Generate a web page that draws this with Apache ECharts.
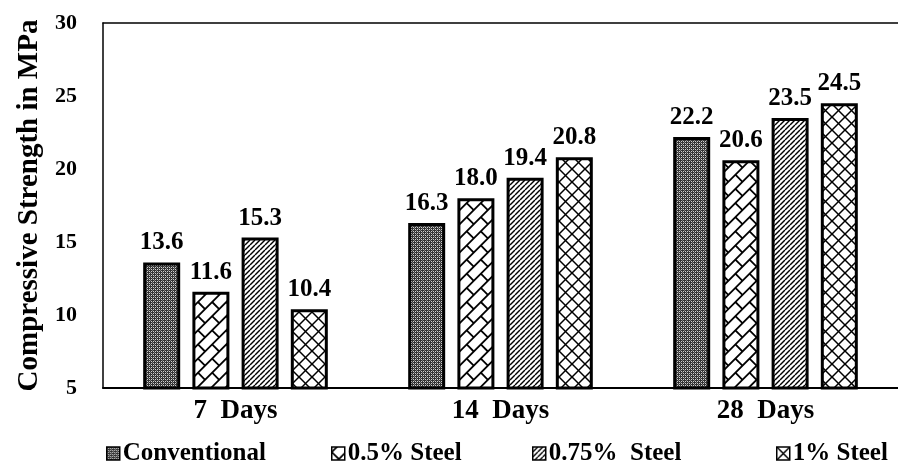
<!DOCTYPE html>
<html>
<head>
<meta charset="utf-8">
<script src="https://cdn.jsdelivr.net/npm/echarts@6/dist/echarts.min.js"></script>
<style>
  html, body { margin: 0; padding: 0; background: #fff; }
  #chart { width: 898px; height: 473px; }
</style>
</head>
<body>
<div id="chart"></div>
<script>
// Compressive strength by curing age and steel fibre content
const categories = ['7  Days', '14  Days', '28  Days'];
const seriesNames = ['Conventional', '0.5% Steel', '0.75%  Steel', '1% Steel'];
const conventional = [13.6, 16.3, 22.2];
const steel05 = [11.6, 18.0, 20.6];
const steel075 = [15.3, 19.4, 23.5];
const steel1 = [10.4, 20.8, 24.5];
const yMin = 5, yMax = 30, yStep = 5;

const FONT = '"Liberation Serif", "Times New Roman", serif';

function makeCanvas(w, h) {
  const c = document.createElement('canvas');
  c.width = w; c.height = h;
  return c;
}

// Fine dark stipple
function stipplePattern() {
  const c = makeCanvas(4, 4);
  const g = c.getContext('2d');
  g.fillStyle = '#333';
  g.fillRect(0, 0, 4, 4);
  g.fillStyle = '#d0d0d0';
  [[1, 1], [3, 3], [1, 3], [3, 1]].forEach(p => g.fillRect(p[0], p[1], 1, 1));
  g.fillStyle = '#7a7a7a';
  [[0, 2], [2, 0]].forEach(p => g.fillRect(p[0], p[1], 1, 1));
  return c;
}

// Diagonal brick: long rising lines with staggered short joints
function brickPattern() {
  const W = 1000, H = 500;
  const c = makeCanvas(W, H);
  const g = c.getContext('2d');
  g.fillStyle = '#fff';
  g.fillRect(0, 0, W, H);
  g.strokeStyle = '#000';
  g.lineWidth = 1.8;
  g.translate(0, H);
  g.rotate(-Math.PI / 4);
  const row = 10, len = 20;
  const span = W + H;
  for (let r = -Math.ceil(span / row); r <= Math.ceil(span / row); r++) {
    const y = r * row;
    g.beginPath();
    g.moveTo(-span, y);
    g.lineTo(span * 2, y);
    g.stroke();
    const off = (r % 2 === 0) ? 0 : len / 2;
    for (let x = -span + off; x < span * 2; x += len) {
      g.beginPath();
      g.moveTo(x, y);
      g.lineTo(x, y + row);
      g.stroke();
    }
  }
  return c;
}

// Dense rising hatch
function hatchPattern() {
  const s = 5;
  const c = makeCanvas(s, s);
  const g = c.getContext('2d');
  g.fillStyle = '#fff';
  g.fillRect(0, 0, s, s);
  g.strokeStyle = '#000';
  g.lineWidth = 1.4;
  for (let k = -1; k <= 1; k++) {
    g.beginPath();
    g.moveTo(k * s, s);
    g.lineTo(k * s + s, 0);
    g.stroke();
  }
  return c;
}

// Diagonal cross-hatch
function crossPattern() {
  const s = 13;
  const c = makeCanvas(s, s);
  const g = c.getContext('2d');
  g.fillStyle = '#fff';
  g.fillRect(0, 0, s, s);
  g.strokeStyle = '#000';
  g.lineWidth = 1.5;
  for (let k = -1; k <= 1; k++) {
    g.beginPath();
    g.moveTo(k * s, s);
    g.lineTo(k * s + s, 0);
    g.stroke();
    g.beginPath();
    g.moveTo(k * s, 0);
    g.lineTo(k * s + s, s);
    g.stroke();
  }
  return c;
}

const fills = [stipplePattern(), brickPattern(), hatchPattern(), crossPattern()];
const values = [conventional, steel05, steel075, steel1];

const chart = echarts.init(document.getElementById('chart'), null, { renderer: 'canvas' });

const legendLefts = [101, 326, 527, 771];

const option = {
  animation: false,
  backgroundColor: '#fff',
  grid: { left: 103, right: 0, top: 23, bottom: 85, containLabel: false },
  xAxis: [
    {
      type: 'category',
      data: categories,
      axisLine: { show: true, lineStyle: { color: '#000', width: 2 } },
      axisTick: { show: false },
      axisLabel: {
        color: '#000', fontFamily: FONT, fontWeight: 'bold', fontSize: 27, margin: 10
      },
      splitLine: { show: false }
    },
    {
      type: 'category',
      position: 'top',
      data: categories,
      axisLine: { show: true, lineStyle: { color: '#000', width: 1.5 } },
      axisTick: { show: false },
      axisLabel: { show: false },
      splitLine: { show: false }
    }
  ],
  yAxis: {
    type: 'value',
    min: yMin,
    max: yMax,
    interval: yStep,
    name: 'Compressive Strength in MPa',
    nameLocation: 'middle',
    nameGap: 56,
    nameTextStyle: { color: '#000', fontFamily: FONT, fontWeight: 'bold', fontSize: 29 },
    axisLine: { show: true, lineStyle: { color: '#000', width: 1.5 } },
    axisTick: { show: false },
    axisLabel: { color: '#000', fontFamily: FONT, fontWeight: 'bold', fontSize: 22, margin: 26 },
    splitLine: { show: false }
  },
  legend: seriesNames.map((name, i) => ({
    data: [name],
    left: legendLefts[i],
    top: 436,
    icon: 'rect',
    itemWidth: 13,
    itemHeight: 13,
    itemGap: 4,
    itemStyle: { borderWidth: 1.5, borderColor: '#000' },
    textStyle: { color: '#000', fontFamily: FONT, fontWeight: 'bold', fontSize: 25, padding: [0, 0, 0, -2] }
  })),
  series: seriesNames.map((name, i) => ({
    name: name,
    type: 'bar',
    data: values[i],
    barWidth: 37,
    barGap: '33%',
    itemStyle: {
      color: { image: fills[i], repeat: 'repeat' },
      borderColor: '#000',
      borderWidth: 3
    },
    label: {
      show: true,
      position: 'top',
      distance: 7,
      color: '#000',
      fontFamily: FONT,
      fontWeight: 'bold',
      fontSize: 25,
      formatter: p => p.value.toFixed(1)
    }
  }))
};

chart.setOption(option);
</script>
</body>
</html>
